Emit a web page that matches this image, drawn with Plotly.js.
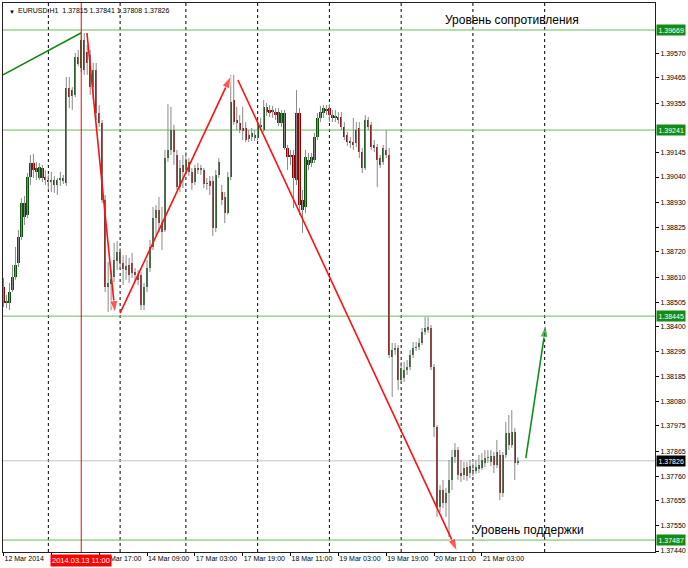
<!DOCTYPE html>
<html><head><meta charset="utf-8">
<script src="https://cdn.plot.ly/plotly-3.0.1.min.js"></script>
<style>html,body{margin:0;padding:0;background:#fff;}#chart{width:688px;height:568px;}</style>
</head><body><div id="chart"></div>
<script>
// ---- data (EURUSD H1, bar index 0 = 12 Mar 2014 09:00) ----
const openP = [1.38569,1.38501,1.38501,1.38556,1.38612,1.38672,1.38784,1.38929,1.38878,1.39040,
1.39100,1.39079,1.39036,1.39079,1.39040,1.39027,1.39019,1.39027,1.39006,1.39027,
1.39023,1.39014,1.39421,1.39412,1.39391,1.39554,1.39506,1.39626,1.39575,1.39562,
1.39425,1.39498,1.39314,1.39271,1.38942,1.38570,1.38582,1.38612,1.38681,1.38719,
1.38672,1.38642,1.38664,1.38672,1.38634,1.38621,1.38621,1.38493,1.38570,1.38651,
1.38741,1.38865,1.38899,1.38843,1.38813,1.39121,1.39156,1.39241,1.39134,1.38997,
1.39092,1.39070,1.39104,1.39062,1.39019,1.39079,1.39070,1.39070,1.39010,1.39023,
1.39023,1.38822,1.39049,1.38976,1.38955,1.38886,1.39040,1.39370,1.39284,1.39271,
1.39250,1.39250,1.39203,1.39211,1.39220,1.39207,1.39254,1.39241,1.39340,1.39327,
1.39318,1.39318,1.39318,1.39271,1.39314,1.39164,1.39126,1.39134,1.39027,1.39314,
1.38942,1.38912,1.39113,1.39100,1.39113,1.39211,1.39293,1.39314,1.39331,1.39335,
1.39305,1.39293,1.39297,1.39297,1.39254,1.39220,1.39194,1.39190,1.39186,1.39250,
1.39147,1.39079,1.39284,1.39263,1.39177,1.39168,1.39121,1.39104,1.39156,1.39134,
1.38270,1.38300,1.38309,1.38172,1.38180,1.38214,1.38227,1.38279,1.38309,1.38313,
1.38330,1.38377,1.38386,1.38394,1.38227,1.37971,1.37628,1.37701,1.37645,1.37688,
1.37744,1.37842,1.37872,1.37774,1.37765,1.37800,1.37774,1.37787,1.37782,1.37791,
1.37795,1.37817,1.37838,1.37821,1.37847,1.37808,1.37851,1.37688,1.37851,1.37945,
1.37894,1.37949,1.37815];
const highP = [1.38608,1.38535,1.38587,1.38664,1.38741,1.38813,1.38950,1.38959,1.39057,1.39134,
1.39139,1.39104,1.39100,1.39092,1.39070,1.39049,1.39062,1.39044,1.39036,1.39062,
1.39049,1.39468,1.39468,1.39425,1.39571,1.39583,1.39662,1.39656,1.39605,1.39583,
1.39528,1.39528,1.39348,1.39284,1.38963,1.38677,1.38642,1.38758,1.38766,1.38736,
1.38706,1.38706,1.38694,1.38715,1.38651,1.38642,1.38634,1.38587,1.38685,1.38771,
1.38912,1.38920,1.38955,1.38912,1.39156,1.39352,1.39340,1.39263,1.39156,1.39113,
1.39134,1.39147,1.39121,1.39079,1.39092,1.39100,1.39092,1.39079,1.39036,1.39044,
1.39044,1.39070,1.39121,1.39006,1.38976,1.39062,1.39477,1.39477,1.39340,1.39305,
1.39340,1.39275,1.39241,1.39250,1.39241,1.39284,1.39293,1.39370,1.39357,1.39348,
1.39344,1.39335,1.39335,1.39327,1.39327,1.39177,1.39156,1.39156,1.39412,1.39335,
1.38985,1.39156,1.39143,1.39143,1.39228,1.39314,1.39344,1.39348,1.39348,1.39352,
1.39327,1.39327,1.39318,1.39318,1.39275,1.39233,1.39211,1.39293,1.39275,1.39275,
1.39164,1.39305,1.39297,1.39275,1.39198,1.39181,1.39134,1.39177,1.39241,1.39164,
1.38330,1.38330,1.38321,1.38249,1.38249,1.38257,1.38300,1.38334,1.38334,1.38351,
1.38394,1.38441,1.38441,1.38407,1.38240,1.37979,1.37722,1.37744,1.37710,1.37830,
1.37872,1.37902,1.37885,1.37830,1.37821,1.37821,1.37830,1.37817,1.37830,1.37851,
1.37859,1.37872,1.37872,1.37872,1.37864,1.37915,1.37872,1.37864,1.37992,1.38022,
1.38043,1.37966,1.37841];
const lowP = [1.38484,1.38480,1.38471,1.38548,1.38600,1.38655,1.38771,1.38835,1.38865,1.39006,
1.39036,1.39027,1.39027,1.39019,1.39006,1.38985,1.38976,1.38972,1.38963,1.39002,
1.39010,1.39002,1.39335,1.39327,1.39382,1.39515,1.39489,1.39477,1.39477,1.39391,
1.39370,1.39284,1.39254,1.38929,1.38548,1.38463,1.38471,1.38591,1.38642,1.38651,
1.38578,1.38600,1.38587,1.38608,1.38591,1.38578,1.38471,1.38471,1.38548,1.38634,
1.38728,1.38792,1.38805,1.38728,1.38805,1.39104,1.39134,1.39092,1.38985,1.38976,
1.38993,1.39049,1.39044,1.38985,1.39006,1.39053,1.39049,1.38993,1.38985,1.38963,
1.38788,1.38805,1.39036,1.38920,1.38843,1.38878,1.39027,1.39263,1.39241,1.39228,
1.39198,1.39190,1.39190,1.39194,1.39194,1.39198,1.39241,1.39233,1.39301,1.39297,
1.39293,1.39284,1.39258,1.39254,1.39156,1.39070,1.39092,1.38907,1.39006,1.38878,
1.38801,1.38886,1.39070,1.39083,1.39100,1.39198,1.39275,1.39293,1.39305,1.39275,
1.39275,1.39275,1.39267,1.39241,1.39198,1.39173,1.39164,1.39156,1.39168,1.39121,
1.39057,1.39070,1.39241,1.39156,1.39147,1.38997,1.39079,1.39092,1.39121,1.38266,
1.38099,1.38279,1.38129,1.38159,1.38163,1.38193,1.38214,1.38266,1.38296,1.38300,
1.38321,1.38364,1.38373,1.38214,1.37928,1.37586,1.37607,1.37624,1.37586,1.37500,
1.37701,1.37817,1.37744,1.37735,1.37744,1.37740,1.37752,1.37761,1.37770,1.37774,
1.37787,1.37800,1.37817,1.37804,1.37774,1.37795,1.37658,1.37671,1.37838,1.37872,
1.37881,1.37744,1.37808];
const closeP = [1.38501,1.38510,1.38548,1.38612,1.38664,1.38784,1.38929,1.38869,1.39040,1.39100,
1.39070,1.39062,1.39083,1.39036,1.39027,1.39019,1.39027,1.39006,1.39027,1.39036,
1.39036,1.39421,1.39382,1.39387,1.39554,1.39524,1.39626,1.39498,1.39528,1.39425,
1.39498,1.39314,1.39271,1.38942,1.38570,1.38587,1.38604,1.38685,1.38719,1.38672,
1.38647,1.38659,1.38621,1.38629,1.38621,1.38600,1.38493,1.38570,1.38651,1.38741,
1.38865,1.38899,1.38843,1.38805,1.39121,1.39156,1.39241,1.39147,1.38997,1.39079,
1.39062,1.39113,1.39062,1.39014,1.39079,1.39070,1.39079,1.39010,1.39014,1.39002,
1.38822,1.39049,1.39104,1.38942,1.38886,1.39040,1.39361,1.39275,1.39271,1.39241,
1.39237,1.39198,1.39220,1.39228,1.39207,1.39263,1.39263,1.39340,1.39318,1.39314,
1.39327,1.39305,1.39271,1.39314,1.39164,1.39126,1.39134,1.39036,1.39314,1.38920,
1.38899,1.39126,1.39092,1.39126,1.39211,1.39293,1.39318,1.39335,1.39322,1.39305,
1.39293,1.39301,1.39284,1.39254,1.39211,1.39190,1.39186,1.39177,1.39241,1.39147,
1.39079,1.39284,1.39254,1.39168,1.39164,1.39113,1.39092,1.39164,1.39134,1.38279,
1.38300,1.38309,1.38172,1.38223,1.38214,1.38227,1.38279,1.38309,1.38313,1.38330,
1.38377,1.38394,1.38398,1.38227,1.37971,1.37628,1.37701,1.37645,1.37688,1.37744,
1.37842,1.37872,1.37765,1.37761,1.37795,1.37761,1.37804,1.37782,1.37800,1.37808,
1.37830,1.37838,1.37842,1.37847,1.37808,1.37864,1.37688,1.37851,1.37945,1.37894,
1.37949,1.37817,1.37826];

// the 13 Mar 01:00 label sits under the red time marker in the original, so it is left blank
const tickBars   = [0,16,32,48,64,80,96,112,128,144,160];
const tickLabels = ['12 Mar 2014','','13 Mar 17:00','14 Mar 09:00','17 Mar 03:00',
                    '17 Mar 19:00','18 Mar 11:00','19 Mar 03:00','19 Mar 19:00','20 Mar 11:00','21 Mar 03:00'];
const priceTicks = [1.39570,1.39465,1.39355,1.39145,1.39040,1.38930,1.38825,1.38720,1.38610,
                    1.38505,1.38400,1.38295,1.38185,1.38080,1.37975,1.37865,1.37760,1.37655,1.37550,1.37440];
const levelPrices = [1.39669, 1.39241, 1.38445, 1.37487];
const lastPrice = 1.37826;
const daySeparators = [15,39,61,85,109,133,157,181];
const markedBar = 26;
const markedLabel = '2014.03.13 11:00';
const headerText = 'EURUSD,H1\u00a0 1.37815 1.37841 1.37808 1.37826';
const resistanceText = 'Уровень сопротивления';
const supportText = 'Уровень поддержки';
// trend line and arrows: [barFrom, priceFrom, barTo, priceTo]
const greenTrend  = [-0.17, 1.39477, 25.9, 1.39656];
const redArrows   = [[27.9, 1.39656, 37.3, 1.38458],
                     [39.0, 1.38458, 76.1, 1.39472],
                     [78.4, 1.39455, 151.7, 1.37440]];
const greenArrow  = [174.7, 1.37838, 181.4, 1.38407];

// ---- build traces ----
const n = openP.length;
const idx = openP.map((_, i) => i);
const wx = [], wy = [];
for (let i = 0; i < n; i++) { wx.push(i, i, null); wy.push(lowP[i], highP[i], null); }
const base = [], hgt = [], col = [];
for (let i = 0; i < n; i++) {
  base.push(Math.min(openP[i], closeP[i]));
  hgt.push(Math.max(Math.abs(closeP[i] - openP[i]), 0.00002));
  col.push(closeP[i] >= openP[i] ? '#0c520c' : '#8c0606');
}
const traces = [
  {type:'scatter', mode:'lines', x:wx, y:wy, line:{color:'#8a8a8a', width:1}, hoverinfo:'skip'},
  {type:'bar', x:idx, base:base, y:hgt, width:0.75, marker:{color:col, line:{width:0}}, hoverinfo:'skip'},
  {type:'scatter', mode:'lines', x:[greenTrend[0], greenTrend[2]], y:[greenTrend[1], greenTrend[3]],
   line:{color:'#0f8a0f', width:1.6}, hoverinfo:'skip'}
];
function arrowTrace(a, color) {
  return {type:'scatter', mode:'lines+markers', x:[a[0], a[2]], y:[a[1], a[3]],
    line:{color:color, width:1.6},
    marker:{symbol:'arrow', size:[0, 13], angleref:'previous', color:color},
    hoverinfo:'skip', cliponaxis:false};
}
redArrows.forEach(a => traces.push(arrowTrace(a, '#ff1010')));
traces.push(arrowTrace(greenArrow, '#10901a'));

const shapes = [];
daySeparators.forEach(b => shapes.push({type:'line', xref:'x', yref:'paper', x0:b, x1:b, y0:0, y1:1,
  line:{color:'#000', width:1, dash:'dot'}, layer:'below'}));
levelPrices.forEach(p => shapes.push({type:'line', xref:'paper', yref:'y', x0:0, x1:1, y0:p, y1:p,
  line:{color:'#66bb5a', width:1}, layer:'below'}));
shapes.push({type:'line', xref:'paper', yref:'y', x0:0, x1:1, y0:lastPrice, y1:lastPrice,
  line:{color:'#c4c4c4', width:1}, layer:'below'});
shapes.push({type:'line', xref:'x', yref:'paper', x0:markedBar, x1:markedBar, y0:0, y1:1,
  line:{color:'#ff0000', width:1}, layer:'above'});

const small = {family:'Liberation Sans, Arial, sans-serif', size:7, color:'#000'};
const annotations = [];
levelPrices.forEach(p => annotations.push({xref:'paper', yref:'y', x:1, y:p, xanchor:'left', yanchor:'middle',
  xshift:1, text:p.toFixed(5), showarrow:false, bgcolor:'#148c14', borderpad:1.5,
  font:{family:small.family, size:7, color:'#fff'}}));
annotations.push({xref:'paper', yref:'y', x:1, y:lastPrice, xanchor:'left', yanchor:'middle', xshift:1,
  text:lastPrice.toFixed(5), showarrow:false, bgcolor:'#000', borderpad:1.5,
  font:{family:small.family, size:7, color:'#fff'}});
annotations.push({xref:'x', yref:'paper', x:markedBar, y:0, xanchor:'center', yanchor:'top', yshift:-2,
  text:markedLabel, showarrow:false, bgcolor:'#ff0000', borderpad:1,
  font:{family:small.family, size:7.5, color:'#fff'}});
annotations.push({xref:'paper', yref:'paper', x:0, y:1, xanchor:'left', yanchor:'top', xshift:4, yshift:-4,
  text:'▼', showarrow:false, font:{family:small.family, size:6, color:'#000'}});
annotations.push({xref:'paper', yref:'paper', x:0, y:1, xanchor:'left', yanchor:'top', xshift:13, yshift:-2,
  text:headerText, showarrow:false, font:{family:small.family, size:7, color:'#000'}});
annotations.push({xref:'x', yref:'y', x:147, y:1.39712, xanchor:'left', yanchor:'middle',
  text:resistanceText, showarrow:false, font:{family:'Liberation Sans, Arial, sans-serif', size:12, color:'#000'}});
annotations.push({xref:'x', yref:'y', x:156.7, y:1.37530, xanchor:'left', yanchor:'middle',
  text:supportText, showarrow:false, font:{family:'Liberation Sans, Arial, sans-serif', size:12, color:'#000'}});

const layout = {
  width:688, height:568,
  margin:{l:3, r:33, t:3, b:16, pad:0},
  paper_bgcolor:'#fff', plot_bgcolor:'#fff',
  showlegend:false, hovermode:false, bargap:0,
  font:small,
  xaxis:{range:[-0.17, 217.9], tickmode:'array', tickvals:tickBars, ticktext:tickLabels, tickangle:0,
    ticks:'outside', ticklen:3, tickcolor:'#000', showgrid:false, zeroline:false,
    showline:true, linecolor:'#222', linewidth:1, mirror:true, ticklabelposition:'outside right',
    tickfont:small, fixedrange:true, automargin:false},
  yaxis:{side:'right', range:[1.374359, 1.397845], tickmode:'array', tickvals:priceTicks, tickformat:'.5f',
    ticks:'outside', ticklen:3, tickcolor:'#000', showgrid:false, zeroline:false,
    showline:true, linecolor:'#222', linewidth:1, mirror:true, tickfont:small, fixedrange:true, automargin:false},
  shapes:shapes, annotations:annotations
};
Plotly.newPlot('chart', traces, layout, {displayModeBar:false, staticPlot:true});
</script>
</body></html>
